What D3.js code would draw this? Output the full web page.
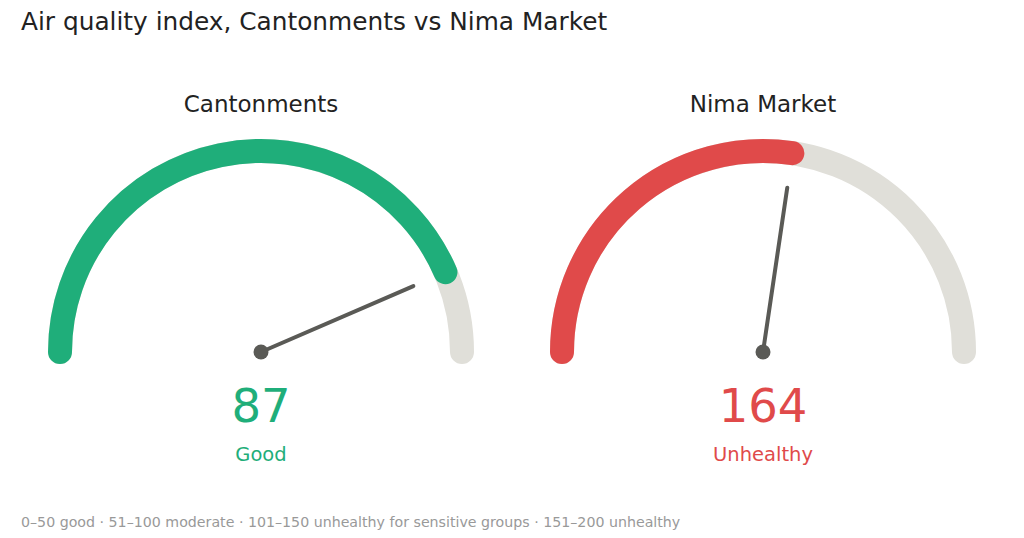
<!DOCTYPE html>
<html>
<head>
<meta charset="utf-8">
<script src="https://cdn.jsdelivr.net/npm/d3@7"></script>
<style>
  body { margin: 0; background: #fff; }
  text { font-family: "DejaVu Sans", sans-serif; }
</style>
</head>
<body>
<div id="chart"></div>
<script>
var sites = ["Cantonments", "Nima Market"]
var aqiValues = [87, 164]
var gaugeMax = [100, 300]
var categories = ["Good", "Unhealthy"]
var colors = ["#1fae7a", "#e04a4a"]
var footnote = "0\u201350 good \u00b7 51\u2013100 moderate \u00b7 101\u2013150 unhealthy for sensitive groups \u00b7 151\u2013200 unhealthy"

var width = 1024, height = 538

var svg = d3.select("#chart")
  .append("svg")
  .attr("width", width)
  .attr("height", height)

svg.append("text")
  .attr("x", 21)
  .attr("y", 30)
  .attr("font-size", 24.8)
  .attr("fill", "#222")
  .text("Air quality index, Cantonments vs Nima Market")

var centers = d3.scalePoint()
  .domain(sites)
  .range([261, 763])

var radius = 201, band = 24

// open arc from the left end (angle measured from 12 o'clock, clockwise)
function arcPath(a0, a1) {
  var p = d3.path()
  p.arc(0, 0, radius, a0 - Math.PI / 2, a1 - Math.PI / 2, false)
  return p.toString()
}

sites.forEach(function (site, i) {
  var angle = d3.scaleLinear()
    .domain([0, gaugeMax[i]])
    .range([-Math.PI / 2, Math.PI / 2])

  var g = svg.append("g")
    .attr("transform", "translate(" + centers(site) + ",352)")

  // background track
  g.append("path")
    .attr("d", arcPath(-Math.PI / 2, Math.PI / 2))
    .attr("fill", "none")
    .attr("stroke", "#e0dfd9")
    .attr("stroke-width", band)
    .attr("stroke-linecap", "round")

  g.append("path")
    .attr("d", arcPath(-Math.PI / 2, angle(aqiValues[i])))
    .attr("fill", "none")
    .attr("stroke", colors[i])
    .attr("stroke-width", band)
    .attr("stroke-linecap", "round")

  var a = angle(aqiValues[i]), len = 166
  g.append("line")
    .attr("x1", 0).attr("y1", 0)
    .attr("x2", len * Math.sin(a))
    .attr("y2", -len * Math.cos(a))
    .attr("stroke", "#5a5a56")
    .attr("stroke-width", 4)
    .attr("stroke-linecap", "round")

  g.append("circle")
    .attr("r", 7.5)
    .attr("fill", "#5a5a56")

  g.append("text")
    .attr("y", -240)
    .attr("text-anchor", "middle")
    .attr("font-size", 23)
    .attr("fill", "#222")
    .text(site)

  g.append("text")
    .attr("y", 70)
    .attr("text-anchor", "middle")
    .attr("font-size", 46.5)
    .attr("fill", colors[i])
    .text(aqiValues[i])

  g.append("text")
    .attr("y", 109)
    .attr("text-anchor", "middle")
    .attr("font-size", 19.5)
    .attr("fill", colors[i])
    .text(categories[i])
})

svg.append("text")
  .attr("x", 21)
  .attr("y", 527)
  .attr("font-size", 14.2)
  .attr("fill", "#999")
  .text(footnote)
</script>
</body>
</html>
